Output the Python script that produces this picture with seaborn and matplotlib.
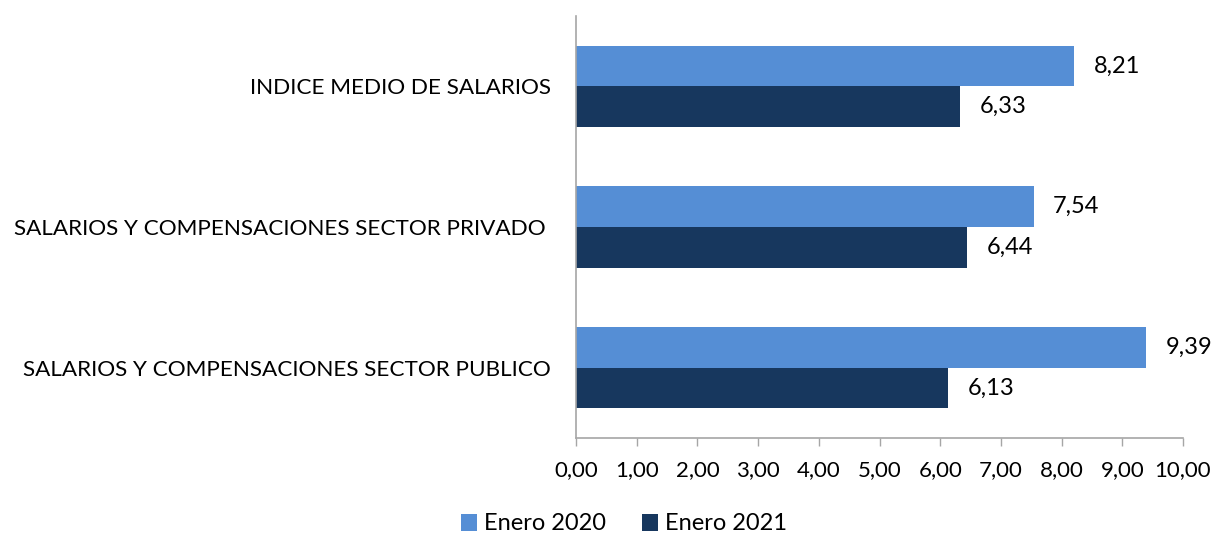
import matplotlib
matplotlib.use("Agg")
import matplotlib.pyplot as plt
import seaborn as sns
import pandas as pd
from matplotlib.patches import Patch

categories = ["INDICE MEDIO DE SALARIOS",
              "SALARIOS Y COMPENSACIONES SECTOR PRIVADO ",
              "SALARIOS Y COMPENSACIONES SECTOR PUBLICO"]
series_names = ["Enero 2020", "Enero 2021"]
values_2020 = [8.21, 7.54, 9.39]
values_2021 = [6.33, 6.44, 6.13]
x_ticks = [0, 1, 2, 3, 4, 5, 6, 7, 8, 9, 10]
colors = ["#558ED5", "#17375E"]

df = pd.DataFrame({
    "categoria": categories * 2,
    "serie": [series_names[0]] * 3 + [series_names[1]] * 3,
    "valor": values_2020 + values_2021,
})

sns.set_theme(style="white")
plt.rcParams["font.family"] = ["Lato", "DejaVu Sans"]
plt.rcParams["text.color"] = "black"
plt.rcParams["xtick.color"] = "black"
plt.rcParams["ytick.color"] = "black"
FS_CAT = 16.2
FS_VAL = 17
FS_TICK = 16
FS_LEG = 17

fig = plt.figure(figsize=(12.17, 5.4), dpi=100)
ax = fig.add_axes([576 / 1217, 1 - 438 / 540, (1183 - 576) / 1217, (438 - 16) / 540])

sns.barplot(data=df, y="categoria", x="valor", hue="serie", orient="h",
            palette=colors, width=0.576, ax=ax, legend=False, saturation=1,
            linewidth=0, edgecolor="none")

for cont in ax.containers:
    labels = [f"{v:.2f}".replace(".", ",") for v in cont.datavalues]
    ax.bar_label(cont, labels=labels, padding=14, fontsize=FS_VAL, color="black")

ax.set_xlim(0, 10)
ax.set_xticks(x_ticks)
ax.set_xticklabels([f"{t:.2f}".replace(".", ",") for t in x_ticks], fontsize=FS_TICK)
ax.set_xlabel("")
ax.set_ylabel("")
ax.tick_params(axis="y", length=0, pad=18, labelsize=FS_CAT, colors="black")
ax.tick_params(axis="x", length=6, width=1, color="#A6A6A6", labelcolor="black",
               direction="out", bottom=True, pad=10)
for s in ["top", "right"]:
    ax.spines[s].set_visible(False)
for s in ["left", "bottom"]:
    ax.spines[s].set_color("#A6A6A6")
    ax.spines[s].set_linewidth(1.2)
ax.grid(False)

handles = [Patch(facecolor=c, edgecolor="none") for c in colors]
fig.legend(handles, series_names, loc="center", bbox_to_anchor=(624 / 1217, 1 - 524 / 540),
           ncol=2, frameon=False, fontsize=FS_LEG, handlelength=0.7, handleheight=0.7,
           handletextpad=0.3, columnspacing=1.5)

fig.savefig("out.png", dpi=100)
